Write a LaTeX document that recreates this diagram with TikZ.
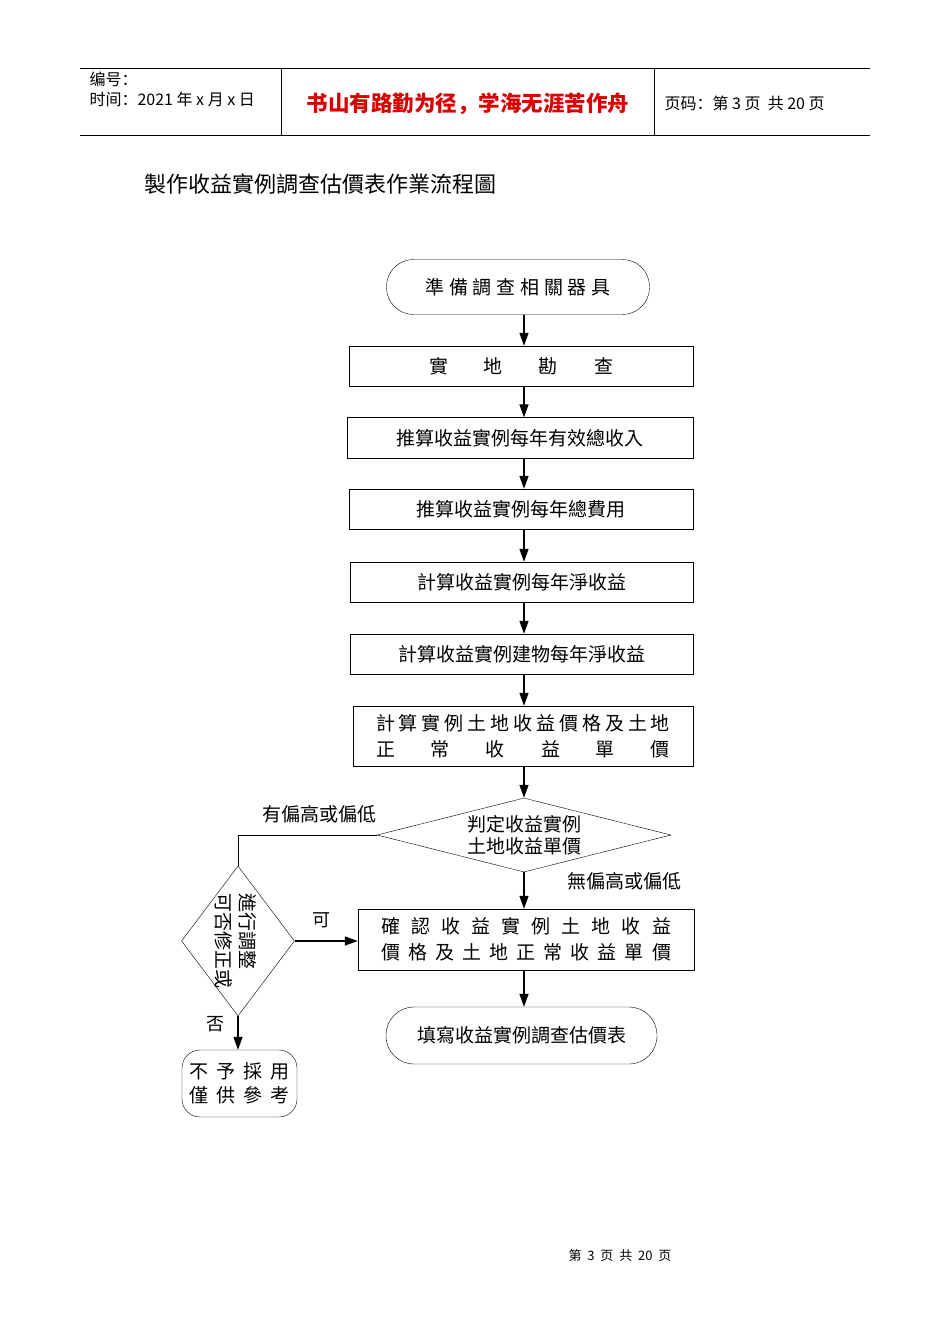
\documentclass[tikz,border=0pt]{standalone}
\usepackage{fontspec}
\setmainfont{Liberation Serif}
\newfontfamily\tcfont{Noto Sans CJK TC}
\newfontfamily\scfont{Noto Sans CJK SC}
\usetikzlibrary{shapes.geometric,arrows.meta}
\newcommand\spr[2]{\hbox to #1{#2}}
\begin{document}
\begin{tikzpicture}[x=1pt,y=-1pt,
  box/.style={draw,minimum width=#1,inner sep=0pt},
  lbl/.style={font=\tcfont\fontsize{19}{22}\selectfont},
  arr/.style={-{Triangle[length=13pt,width=9pt]},line width=1.4pt},
  every node/.style={lbl}]
\useasboundingbox (0,0) rectangle (950,1344);
% header
\draw[line width=0.6pt] (80,68) -- (870,68) (80,135) -- (870,135) (281,68) -- (281,135) (654,68) -- (654,135);
\node[anchor=west,font=\scfont\fontsize{16}{18}\selectfont] (h1) at (86,79) {编号：};
\node[anchor=west,font=\scfont\fontsize{16}{18}\selectfont] (h2) at (86,99) {时间：2021 年 x 月 x 日};
\node[font=\scfont\bfseries\fontsize{21.5}{24}\selectfont,text=red!85!black] (h3) at (468,104) {书山有路勤为径，学海无涯苦作舟};
\node[anchor=west,font=\scfont\fontsize{16}{18}\selectfont] (h4) at (661,103) {页码：第 3 页\ \ 共 20 页};
\node[anchor=west,font=\tcfont\fontsize{22}{24}\selectfont] (title) at (141,184) {製作收益實例調查估價表作業流程圖};
% flow
\node[draw,rounded corners=27pt,minimum width=263pt,minimum height=55pt] (s) at (518,287) {\spr{185pt}{準\hfil 備\hfil 調\hfil 查\hfil 相\hfil 關\hfil 器\hfil 具}};
\node[box=344pt,minimum height=40pt] (b1) at (521,366) {\spr{184pt}{實\hfil 地\hfil 勘\hfil 查}};
\node[box=346pt,minimum height=41pt] (b2) at (520,438) {推算收益實例每年有效總收入};
\node[box=344pt,minimum height=40pt] (b3) at (521,509) {推算收益實例每年總費用};
\node[box=343pt,minimum height=40pt] (b4) at (521.5,582) {計算收益實例每年淨收益};
\node[box=343pt,minimum height=40pt] (b5) at (521.5,654) {計算收益實例建物每年淨收益};
\node[box=340pt,minimum height=60pt,align=left] (b6) at (523,736) {\spr{294pt}{計\hfil 算\hfil 實\hfil 例\hfil 土\hfil 地\hfil 收\hfil 益\hfil 價\hfil 格\hfil 及\hfil 土\hfil 地}\\[4pt]\spr{294pt}{正\hfil 常\hfil 收\hfil 益\hfil 單\hfil 價}};
\node[draw,diamond,aspect=4,minimum width=294pt,minimum height=74pt,inner sep=0pt,align=center] (d) at (524,835) {判定收益實例\\土地收益單價};
\node[box=336pt,minimum height=61pt,align=left] (b7) at (526,939.5) {\spr{290pt}{確\hfil 認\hfil 收\hfil 益\hfil 實\hfil 例\hfil 土\hfil 地\hfil 收\hfil 益}\\[4pt]\spr{290pt}{價\hfil 格\hfil 及\hfil 土\hfil 地\hfil 正\hfil 常\hfil 收\hfil 益\hfil 單\hfil 價}};
\node[draw,rounded corners=28pt,minimum width=271pt,minimum height=57pt] (e) at (521.5,1035.5) {填寫收益實例調查估價表};
\node[draw,diamond,aspect=0.75,minimum width=113pt,minimum height=150pt,inner sep=0pt] (d2) at (238,941) {};
\node[rotate=-90,align=left,font=\tcfont\fontsize{19}{24}\selectfont] (d2t) at (236,941) {進行調整\\可否修正或};
\node[draw,rounded corners=18pt,minimum width=115pt,minimum height=67pt,align=left] (r) at (239.5,1083.5) {\spr{100pt}{不\hfil 予\hfil 採\hfil 用}\\[2pt]\spr{100pt}{僅\hfil 供\hfil 參\hfil 考}};
% arrows
\coordinate (ax) at (524,0);
\draw[arr] (s.south -| ax) -- (b1.north -| ax);
\draw[arr] (b1.south -| ax) -- (b2.north -| ax);
\draw[arr] (b2.south -| ax) -- (b3.north -| ax);
\draw[arr] (b3.south -| ax) -- (b4.north -| ax);
\draw[arr] (b4.south -| ax) -- (b5.north -| ax);
\draw[arr] (b5.south -| ax) -- (b6.north -| ax);
\draw[arr] (b6.south -| d.north) -- (d.north);
\draw[arr] (d.south) -- (b7.north -| d.south);
\draw[arr] (b7.south -| d.south) -- (e.north -| d.south);
\draw[line width=0.6pt] (d.west) -| (d2.north);
\draw[arr] (d2.east) -- (d2.east -| b7.west);
\draw[arr] (d2.south) -- (r.north -| d2.south);
\node[font=\tcfont\fontsize{19}{21}\selectfont] (l1) at (319,814) {有偏高或偏低};
\node[font=\tcfont\fontsize{19}{21}\selectfont] (l2) at (624,881) {無偏高或偏低};
\node[font=\tcfont\fontsize{18}{20}\selectfont] (l3) at (321,920) {可};
\node[font=\tcfont\fontsize{18}{20}\selectfont] (l4) at (215,1024) {否};
\node[font=\scfont\fontsize{13}{15}\selectfont] (ft) at (620,1256) {第\ \ 3\ \ 页\ \ 共\ \ 20\ \ 页};
\end{tikzpicture}
\end{document}
